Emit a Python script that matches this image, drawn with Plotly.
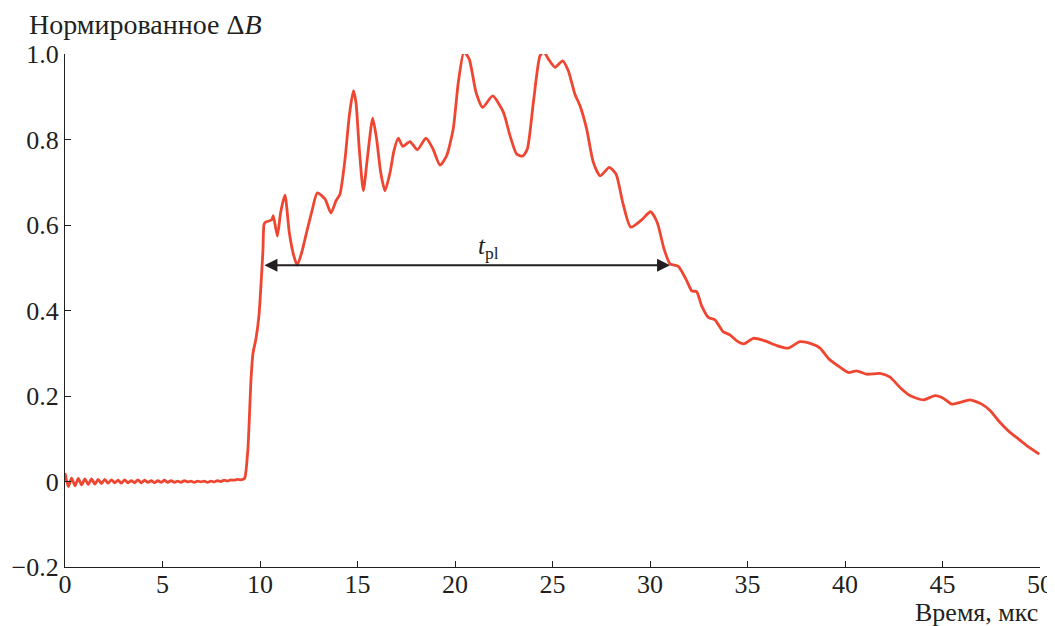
import plotly.graph_objects as go

# ---- data ----
noise_v = [0.020, -0.012, 0.008, -0.010, 0.007, -0.008, 0.006, -0.007, 0.006, -0.006,
           0.005, -0.005, 0.005, -0.004, 0.004, -0.003, 0.003, -0.004, 0.004, -0.003,
           0.002, -0.003, 0.004, -0.003, 0.003, -0.002, 0.002, -0.003, 0.002, -0.002,
           0.003, -0.002, 0.002, -0.002, 0.001, -0.002, 0.002, -0.001, 0.001, -0.002,
           0.001, -0.001, 0.001, -0.002, 0.001, -0.001, 0.002, 0.000, 0.003, 0.001,
           0.004, 0.003, 0.005, 0.004, 0.006]
noise_t = [round(0.17 * i, 2) for i in range(len(noise_v))]

main_t = [9.23, 9.38, 9.54, 9.64, 9.79, 9.95, 10.05, 10.15, 10.2, 10.26, 10.6, 10.68, 10.89,
          11.06, 11.28, 11.5, 11.71, 11.91, 12.14, 12.39, 12.65, 12.94, 13.33, 13.64, 13.9,
          14.1, 14.36, 14.58, 14.79, 14.92, 15.09, 15.3, 15.5, 15.78, 15.98, 16.19, 16.41,
          16.67, 16.87, 17.09, 17.32, 17.69, 18.07, 18.51, 18.86, 19.23, 19.57, 19.91, 20.17,
          20.46, 20.73, 21.08, 21.42, 21.93, 22.48, 22.82, 23.16, 23.47, 23.71, 24.02, 24.36,
          24.56, 24.79, 25.13, 25.52, 25.81, 26.15, 26.41, 26.75, 27.09, 27.44, 27.91, 28.26,
          28.6, 29.01, 29.57, 30.03, 30.37, 30.72, 31.03, 31.45, 31.88, 32.14, 32.39, 32.65,
          32.99, 33.33, 33.76, 34.1, 34.45, 34.82, 35.3, 35.9, 36.5, 37.09, 37.69, 38.29,
          38.72, 39.15, 39.57, 40.17, 40.6, 41.11, 41.79, 42.31, 42.82, 43.33, 44.02, 44.62,
          45.04, 45.47, 45.9, 46.41, 47.01, 47.44, 47.95, 48.46, 48.8, 49.32, 49.96]
main_v = [0.010, 0.076, 0.240, 0.300, 0.333, 0.390, 0.460, 0.540, 0.600, 0.606, 0.612, 0.622, 0.574,
          0.630, 0.670, 0.583, 0.532, 0.506, 0.536, 0.583, 0.630, 0.675, 0.661, 0.628, 0.657,
          0.672, 0.754, 0.856, 0.914, 0.887, 0.778, 0.680, 0.754, 0.850, 0.801, 0.723, 0.680,
          0.723, 0.774, 0.803, 0.784, 0.795, 0.776, 0.803, 0.779, 0.740, 0.762, 0.825, 0.934,
          1.005, 0.988, 0.910, 0.875, 0.902, 0.864, 0.809, 0.766, 0.761, 0.778, 0.887, 0.996,
          1.005, 0.988, 0.969, 0.984, 0.961, 0.906, 0.879, 0.825, 0.747, 0.715, 0.735, 0.719,
          0.653, 0.595, 0.612, 0.631, 0.606, 0.544, 0.509, 0.503, 0.470, 0.446, 0.444, 0.411,
          0.384, 0.378, 0.350, 0.343, 0.329, 0.322, 0.335, 0.329, 0.318, 0.312, 0.327, 0.322,
          0.312, 0.288, 0.273, 0.255, 0.259, 0.251, 0.253, 0.244, 0.220, 0.201, 0.191, 0.201,
          0.195, 0.181, 0.185, 0.191, 0.181, 0.166, 0.138, 0.115, 0.103, 0.084, 0.064]

t_all = noise_t + main_t
v_all = noise_v + main_v

x_ticks = [0, 5, 10, 15, 20, 25, 30, 35, 40, 45, 50]
y_ticks = [-0.2, 0, 0.2, 0.4, 0.6, 0.8, 1.0]
y_tick_labels = ["\u22120.2", "0", "0.2", "0.4", "0.6", "0.8", "1.0"]

arrow_start, arrow_end, arrow_level = 10.15, 31.03, 0.506

FONT = "Liberation Serif, Times New Roman, DejaVu Serif, serif"
TXT = "#231f20"
TICK_SIZE = 26
YTITLE_SIZE = 28
XTITLE_SIZE = 26

# figure is drawn inside the page body (8px offset), so sizes are compensated
W, H = 1047, 618
ML, MR, MT, MB = 57, 15, 46, 59
PW, PH = W - ML - MR, H - MT - MB

fig = go.Figure()
fig.add_trace(go.Scatter(x=t_all, y=v_all, mode="lines",
                         line=dict(color="#ef4631", width=2.8, shape="spline", smoothing=0.6),
                         hoverinfo="skip", showlegend=False))

fig.add_annotation(x=arrow_end, y=arrow_level, ax=arrow_start, ay=arrow_level,
                   xref="x", yref="y", axref="x", ayref="y", text="",
                   showarrow=True, arrowhead=2, arrowside="end+start",
                   arrowsize=1.3, arrowwidth=2, arrowcolor="#231f20")
fig.add_annotation(x=21.7, y=0.548, xref="x", yref="y", showarrow=False,
                   text="<i>t</i><sub>pl</sub>", font=dict(family=FONT, size=25, color=TXT))

fig.add_annotation(x=(19 - ML) / PW, y=1 + (MT - 16) / PH, xref="paper", yref="paper",
                   showarrow=False, text="Нормированное Δ<i>B</i>",
                   font=dict(family=FONT, size=YTITLE_SIZE, color=TXT),
                   xanchor="left", yanchor="middle")
fig.add_annotation(x=1.0, y=-(605 - (MT + PH)) / PH, xref="paper", yref="paper",
                   showarrow=False, text="Время, мкс",
                   font=dict(family=FONT, size=XTITLE_SIZE, color=TXT),
                   xanchor="right", yanchor="middle")

fig.update_layout(
    width=W, height=H,
    margin=dict(l=ML, r=MR, t=MT, b=MB, autoexpand=False),
    paper_bgcolor="white", plot_bgcolor="white",
    font=dict(family=FONT, size=TICK_SIZE, color=TXT),
    xaxis=dict(range=[0, 50], tickvals=x_ticks, ticks="inside", ticklen=6, tickcolor="#231f20",
               showline=True, linecolor="#231f20", linewidth=1.2, showgrid=False, zeroline=False,
               ticklabelstandoff=-6,
               tickfont=dict(family=FONT, size=TICK_SIZE, color=TXT)),
    yaxis=dict(range=[-0.2, 1.0], tickvals=y_ticks, ticktext=y_tick_labels, ticks="inside",
               ticklen=6, tickcolor="#231f20", showline=True, linecolor="#231f20", linewidth=1.2,
               showgrid=False, zeroline=False, tickfont=dict(family=FONT, size=TICK_SIZE, color=TXT)),
)

fig.write_html("out.html")
